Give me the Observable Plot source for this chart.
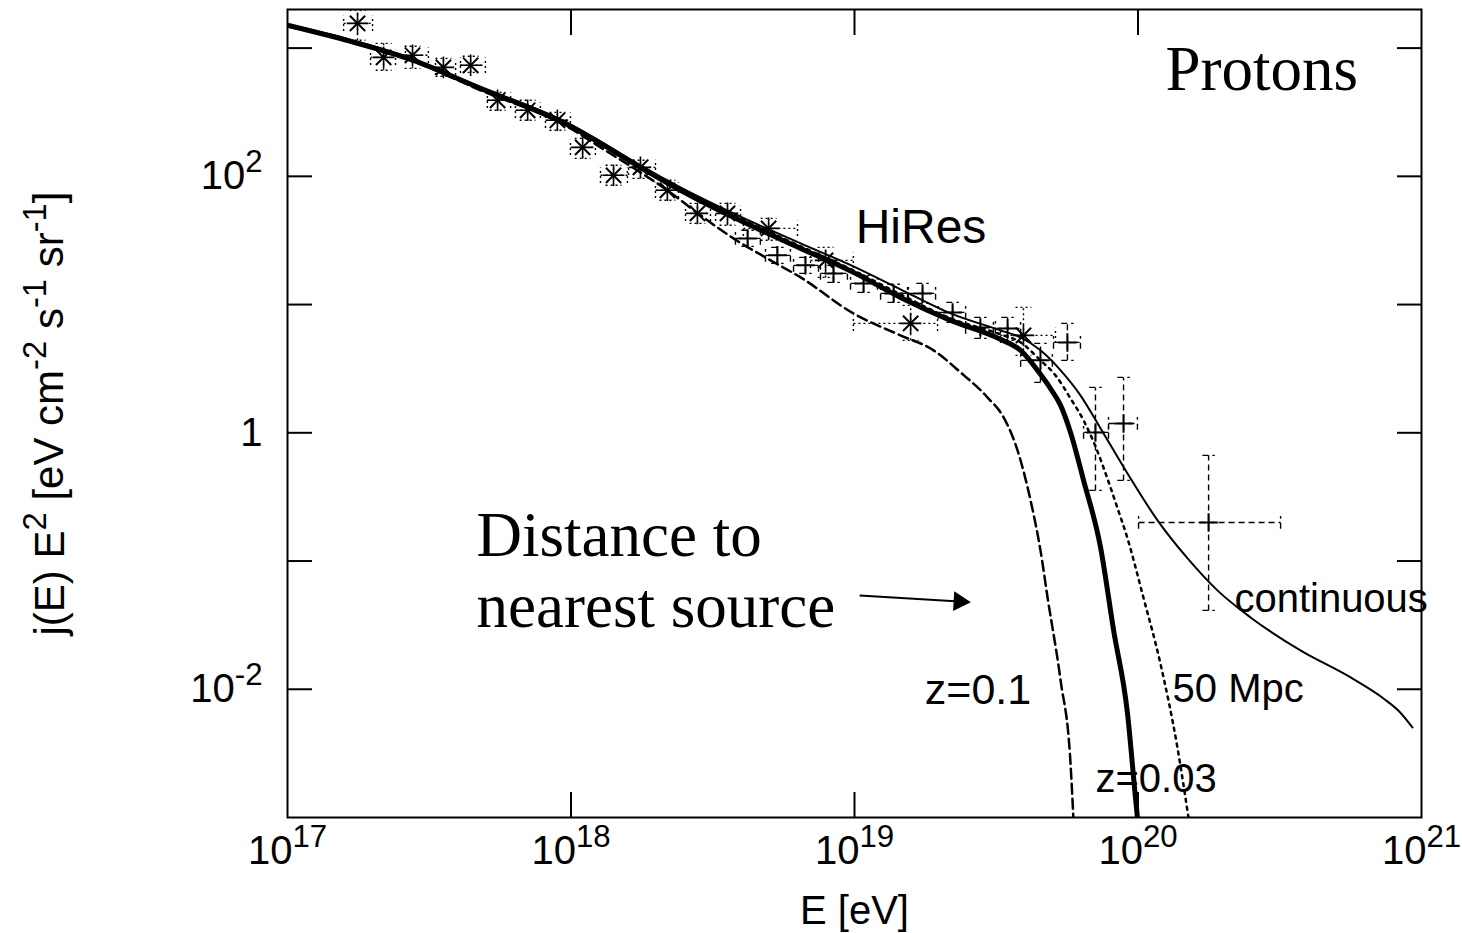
<!DOCTYPE html>
<html>
<head>
<meta charset="utf-8">
<script src="https://cdn.jsdelivr.net/npm/d3@7"></script>
<script src="https://cdn.jsdelivr.net/npm/@observablehq/plot@0.6"></script>
<style>
  html, body { margin: 0; padding: 0; background: #fff; overflow: hidden; }
</style>
</head>
<body>
<div id="chart"></div>
<script>
// ---- Propagated proton spectra: log10(E / eV) and log10(j(E) E^2) ----
// continuous source distribution (thin solid)
const contLogE = [17.000, 17.444, 17.681, 17.998, 18.104, 18.245, 18.386, 18.573, 18.810, 18.996, 19.162, 19.339, 19.515, 19.586, 19.656, 19.727, 19.797, 19.868, 19.963, 20.069, 20.175, 20.280, 20.397, 20.573, 20.750, 20.866, 20.920, 20.968];
const contLogJ = [3.186, 2.913, 2.694, 2.406, 2.273, 2.086, 1.914, 1.711, 1.477, 1.298, 1.119, 0.931, 0.799, 0.744, 0.643, 0.487, 0.292, 0.034, -0.317, -0.683, -0.980, -1.229, -1.440, -1.697, -1.908, -2.072, -2.170, -2.298];
// nearest source at 50 Mpc (dotted)
const mpcLogE = [17.000, 17.444, 17.681, 17.998, 18.104, 18.245, 18.386, 18.573, 18.810, 18.996, 19.162, 19.339, 19.515, 19.586, 19.656, 19.709, 19.762, 19.808, 19.850, 19.892, 19.928, 19.963, 20.019, 20.079, 20.139, 20.178];
const mpcLogJ = [3.178, 2.905, 2.686, 2.390, 2.257, 2.070, 1.899, 1.696, 1.454, 1.267, 1.080, 0.892, 0.768, 0.705, 0.565, 0.448, 0.268, 0.097, -0.106, -0.356, -0.590, -0.824, -1.284, -1.799, -2.454, -3.000];
// nearest source at z = 0.03 (thick solid)
const z003LogE = [17.000, 17.222, 17.444, 17.681, 17.892, 17.998, 18.104, 18.245, 18.386, 18.573, 18.810, 18.996, 19.162, 19.339, 19.515, 19.586, 19.656, 19.691, 19.727, 19.762, 19.808, 19.868, 19.914, 19.963, 19.991, 19.998];
const z003LogJ = [3.178, 3.053, 2.905, 2.686, 2.499, 2.390, 2.257, 2.070, 1.891, 1.680, 1.438, 1.251, 1.056, 0.877, 0.729, 0.643, 0.456, 0.346, 0.214, 0.003, -0.371, -0.894, -1.541, -2.189, -2.844, -3.000];
// nearest source at z = 0.1 (dashed)
const z01LogE = [17.000, 17.444, 17.681, 17.998, 18.104, 18.245, 18.340, 18.457, 18.573, 18.704, 18.810, 18.996, 19.162, 19.279, 19.374, 19.469, 19.526, 19.575, 19.621, 19.656, 19.681, 19.727, 19.762, 19.772];
const z01LogJ = [3.170, 2.897, 2.671, 2.374, 2.226, 2.031, 1.891, 1.696, 1.516, 1.345, 1.212, 0.931, 0.760, 0.643, 0.471, 0.276, 0.120, -0.137, -0.527, -0.917, -1.284, -1.931, -2.579, -3.000];

// ---- HiRes measurements (log10 values, with error ranges) ----
// HiRes-II (star points, dotted error bars)
const h2LogE   = [17.247, 17.339, 17.441, 17.550, 17.646, 17.741, 17.847, 17.952, 18.041, 18.150, 18.245, 18.340, 18.446, 18.552, 18.697, 18.898, 19.198, 19.596];
const h2LogJ   = [3.193, 2.928, 2.944, 2.850, 2.866, 2.593, 2.515, 2.437, 2.226, 2.008, 2.070, 1.891, 1.711, 1.711, 1.594, 1.345, 0.853, 0.760];
const h2LogELo = [17.198, 17.293, 17.416, 17.522, 17.610, 17.705, 17.804, 17.910, 17.998, 18.104, 18.203, 18.298, 18.404, 18.510, 18.608, 18.845, 18.996, 19.515];
const h2LogEHi = [17.300, 17.381, 17.497, 17.593, 17.698, 17.787, 17.892, 17.998, 18.086, 18.199, 18.298, 18.379, 18.492, 18.598, 18.799, 18.996, 19.293, 19.709];
const h2LogJLo = [3.061, 2.827, 2.842, 2.780, 2.811, 2.515, 2.437, 2.359, 2.140, 1.930, 1.984, 1.813, 1.633, 1.618, 1.501, 1.212, 0.721, 0.604];
const h2LogJHi = [3.295, 3.037, 3.014, 2.920, 2.936, 2.655, 2.593, 2.499, 2.296, 2.086, 2.125, 1.969, 1.789, 1.789, 1.672, 1.446, 0.994, 0.978];
// HiRes-I (crosses, dashed error bars)
const h1LogE   = [18.623, 18.728, 18.827, 18.926, 19.032, 19.138, 19.240, 19.346, 19.444, 19.540, 19.656, 19.751, 19.850, 19.949, 20.249];
const h1LogJ   = [1.516, 1.384, 1.306, 1.243, 1.165, 1.087, 1.087, 0.939, 0.822, 0.814, 0.565, 0.705, 0.003, 0.073, -0.699];
const h1LogELo = [18.580, 18.686, 18.785, 18.880, 18.986, 19.092, 19.190, 19.296, 19.392, 19.490, 19.586, 19.702, 19.808, 19.896, 20.002];
const h1LogEHi = [18.668, 18.774, 18.873, 18.975, 19.081, 19.187, 19.286, 19.392, 19.497, 19.586, 19.698, 19.797, 19.896, 19.998, 20.503];
const h1LogJLo = [1.454, 1.321, 1.243, 1.173, 1.095, 1.017, 1.009, 0.861, 0.736, 0.721, 0.393, 0.565, -0.449, -0.371, -1.385];
const h1LogJHi = [1.579, 1.446, 1.368, 1.306, 1.228, 1.158, 1.165, 1.017, 0.900, 0.900, 0.697, 0.853, 0.354, 0.432, -0.176];

// ---- Axes ----
const xTicks = [1e17, 1e18, 1e19, 1e20, 1e21];
const xInnerTicks = [1e18, 1e19, 1e20];
const yTicks = [1e-2, 1e-1, 1, 1e1, 1e2, 1e3];
const yLabeledTicks = [1e-2, 1, 1e2];
const xTitle = "E [eV]";
const yTitle = "j(E) E^2 [eV cm^-2 s^-1 sr^-1]";

// ---- Annotations (log10 E, log10 J at the text baseline) ----
const sansNotes = [
  {text: "HiRes", logE: 19.004, logJ: 1.477, size: 48},
  {text: "continuous", logE: 20.340, logJ: -1.401, size: 40},
  {text: "50 Mpc", logE: 20.122, logJ: -2.103, size: 40},
  {text: "z=0.1", logE: 19.248, logJ: -2.111, size: 43},
  {text: "z=0.03", logE: 19.850, logJ: -2.805, size: 40}
];
const serifNotes = [
  {text: "Protons", logE: 20.097, logJ: 2.671},
  {text: "Distance to\nnearest source", logE: 17.667, logJ: -1.518}
];
const pointer = {logE1: 19.018, logJ1: -1.268, logE2: 19.370, logJ2: -1.315};

const SANS = "'Liberation Sans', Arial, Helvetica, sans-serif";
const SERIF = "'Liberation Serif', 'Times New Roman', Times, serif";

const pow = (v) => 10 ** v;
const spectrum = (logE, logJ) => logE.map((e, i) => ({E: pow(e), J: pow(logJ[i])}));
const measurements = (logE, logJ, eLo, eHi, jLo, jHi) =>
  logE.map((e, i) => ({
    E: pow(e), J: pow(logJ[i]),
    ELo: pow(eLo[i]), EHi: pow(eHi[i]),
    JLo: pow(jLo[i]), JHi: pow(jHi[i])
  }));

const continuous = spectrum(contLogE, contLogJ);
const mpc50 = spectrum(mpcLogE, mpcLogJ);
const z003 = spectrum(z003LogE, z003LogJ);
const z01 = spectrum(z01LogE, z01LogJ);
const hires2 = measurements(h2LogE, h2LogJ, h2LogELo, h2LogEHi, h2LogJLo, h2LogJHi);
const hires1 = measurements(h1LogE, h1LogJ, h1LogELo, h1LogEHi, h1LogJLo, h1LogJHi);

// end caps of the error bars (constant width on the log axes)
function caps(data, kE, kJ) {
  const segs = [];
  for (const d of data) {
    segs.push({x1: d.E / kE, x2: d.E * kE, y1: d.JLo, y2: d.JLo});
    segs.push({x1: d.E / kE, x2: d.E * kE, y1: d.JHi, y2: d.JHi});
    segs.push({x1: d.ELo, x2: d.ELo, y1: d.J / kJ, y2: d.J * kJ});
    segs.push({x1: d.EHi, x2: d.EHi, y1: d.J / kJ, y2: d.J * kJ});
  }
  return segs;
}

const powLabel = (d) => {
  const p = Math.round(Math.log10(d));
  return p === 0 ? "1" : `10^${p}`;
};

function errorBars(data, dash, kE, kJ) {
  const style = {stroke: "black", strokeWidth: 1.4, strokeDasharray: dash};
  return [
    Plot.link(data, {x1: "ELo", x2: "EHi", y1: "J", y2: "J", ...style}),
    Plot.link(data, {x1: "E", x2: "E", y1: "JLo", y2: "JHi", ...style}),
    Plot.link(caps(data, kE, kJ), {x1: "x1", x2: "x2", y1: "y1", y2: "y2", ...style})
  ];
}

const chart = Plot.plot({
  width: 1462,
  height: 933,
  marginLeft: 287,
  marginRight: 41,
  marginTop: 9,
  marginBottom: 116,
  style: {fontFamily: SANS, fontSize: "40px", color: "black", background: "white"},
  x: {type: "log", domain: [1e17, 1e21]},
  y: {type: "log", domain: [1e-3, 2e3]},
  marks: [
    // tick labels
    Plot.axisX(xTicks, {anchor: "bottom", tickSize: 0, tickPadding: 18, tickFormat: powLabel, fontSize: 40, label: null}),
    Plot.axisY(yLabeledTicks, {anchor: "left", tickSize: 0, tickPadding: 25, tickFormat: powLabel, fontSize: 40, label: null}),
    // inward ticks on all four sides
    Plot.axisX(xInnerTicks, {anchor: "bottom", tickSize: -25, strokeWidth: 2, tickFormat: () => "", label: null}),
    Plot.axisX(xInnerTicks, {anchor: "top", tickSize: -25, strokeWidth: 2, tickFormat: () => "", label: null}),
    Plot.axisY(yTicks, {anchor: "left", tickSize: -25, strokeWidth: 2, tickFormat: () => "", label: null}),
    Plot.axisY(yTicks, {anchor: "right", tickSize: -25, strokeWidth: 2, tickFormat: () => "", label: null}),

    // axis titles
    Plot.text([xTitle], {frameAnchor: "bottom", dy: 106, textAnchor: "middle", lineAnchor: "bottom", fontSize: 40, fontFamily: SANS}),
    Plot.text([yTitle], {frameAnchor: "left", dx: -224, rotate: -90, textAnchor: "middle", lineAnchor: "bottom", fontSize: 42, fontFamily: SANS}),

    // HiRes data
    ...errorBars(hires2, "2,3", 10 ** 0.028, 10 ** 0.06),
    ...errorBars(hires1, "6,4", 10 ** 0.022, 10 ** 0.05),
    Plot.dot(hires2, {x: "E", y: "J", symbol: "times", r: 7, stroke: "black", strokeWidth: 2}),
    Plot.dot(hires2, {x: "E", y: "J", symbol: "plus", r: 7, stroke: "black", strokeWidth: 1.6}),
    Plot.dot(hires1, {x: "E", y: "J", symbol: "plus", r: 6, stroke: "black", strokeWidth: 2}),

    // propagated spectra
    Plot.line(z01, {x: "E", y: "J", curve: "monotone-x", stroke: "black", strokeWidth: 2.5, strokeDasharray: "10,5", clip: true}),
    Plot.line(mpc50, {x: "E", y: "J", curve: "monotone-x", stroke: "black", strokeWidth: 2.5, strokeDasharray: "3,5", clip: true}),
    Plot.line(continuous, {x: "E", y: "J", curve: "monotone-x", stroke: "black", strokeWidth: 2, clip: true}),
    Plot.line(z003, {x: "E", y: "J", curve: "monotone-x", stroke: "black", strokeWidth: 5, clip: true}),

    // annotations
    Plot.text(sansNotes, {x: (d) => pow(d.logE), y: (d) => pow(d.logJ), text: "text", fontSize: (d) => d.size, textAnchor: "start", lineAnchor: "bottom", fontFamily: SANS, fill: "black"}),
    Plot.text(serifNotes, {x: (d) => pow(d.logE), y: (d) => pow(d.logJ), text: "text", fontSize: 63, textAnchor: "start", lineAnchor: "bottom", lineHeight: 1.14, fontFamily: SERIF, fill: "black"}),
    Plot.link([pointer], {x1: (d) => pow(d.logE1), y1: (d) => pow(d.logJ1), x2: (d) => pow(d.logE2), y2: (d) => pow(d.logJ2), stroke: "black", strokeWidth: 2}),
    Plot.dot([pointer], {x: (d) => pow(d.logE2), y: (d) => pow(d.logJ2), symbol: "triangle", r: 7.4, fill: "black", stroke: "none", rotate: 93.5}),

    Plot.frame({stroke: "black", strokeWidth: 2})
  ]
});

// render exponents written as "^n" as raised superscripts
const SVG_NS = "http://www.w3.org/2000/svg";
function superscript(el) {
  const s = el.textContent;
  if (!s.includes("^")) return;
  const parts = s.split(/\^(-?\d+)/);
  el.textContent = "";
  let raised = false;
  parts.forEach((p, i) => {
    if (p === "") return;
    const ts = document.createElementNS(SVG_NS, "tspan");
    ts.textContent = p;
    if (i % 2 === 1) {
      ts.setAttribute("font-size", "0.78em");
      ts.setAttribute("dy", "-0.54em");
      raised = true;
    } else if (raised) {
      ts.setAttribute("dy", "0.42em");
      raised = false;
    }
    el.appendChild(ts);
  });
}
chart.querySelectorAll("text").forEach((t) => {
  if (t.querySelector("tspan")) return;
  superscript(t);
});

document.getElementById("chart").appendChild(chart);
</script>
</body>
</html>
